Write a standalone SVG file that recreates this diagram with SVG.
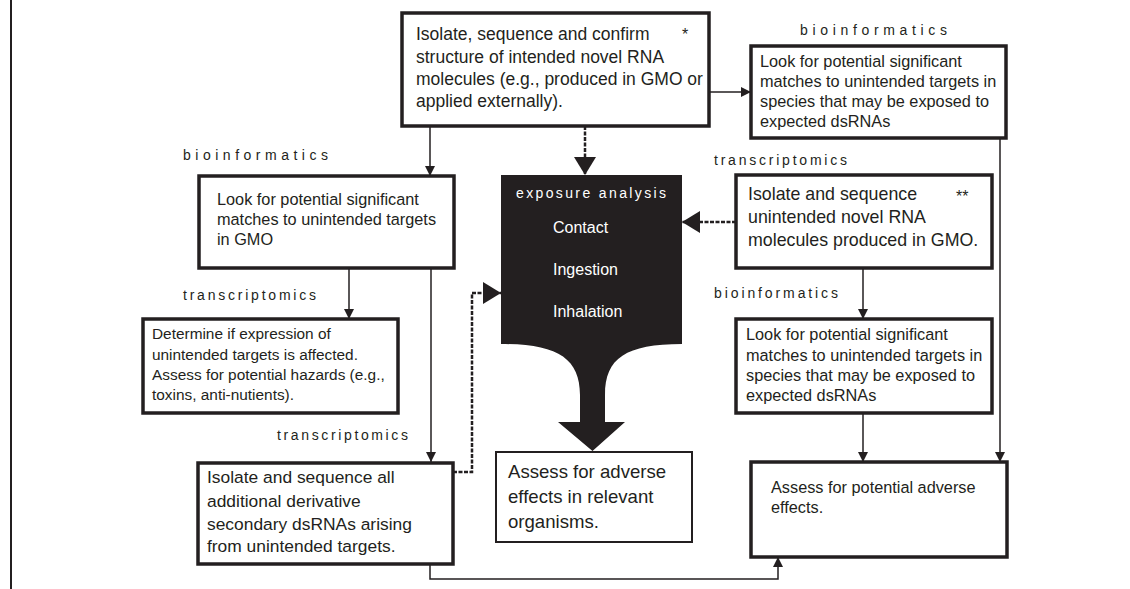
<svg xmlns="http://www.w3.org/2000/svg" width="1130" height="589" viewBox="0 0 1130 589">
<style>
.box{fill:#fff;stroke:#231f20;stroke-width:3.5}
.thin{fill:#fff;stroke:#231f20;stroke-width:2}
.t{font-family:"Liberation Sans",Arial,sans-serif;fill:#231f20}
.lbl{font-family:"Liberation Sans",Arial,sans-serif;fill:#231f20;font-size:14px}
.w{font-family:"Liberation Sans",Arial,sans-serif;fill:#fff}
.c{fill:none;stroke:#231f20;stroke-width:1.5}
.d{fill:none;stroke:#231f20;stroke-width:2.5;stroke-dasharray:4 1.5}
</style>
<defs>
<marker id="a" markerUnits="userSpaceOnUse" markerWidth="10" markerHeight="10" refX="10" refY="5" orient="auto"><path d="M0,0 L10,5 L0,10 Z" fill="#231f20"/></marker>
<marker id="b" markerUnits="userSpaceOnUse" markerWidth="18" markerHeight="22" refX="18" refY="11" orient="auto"><path d="M0,0 L18,11 L0,22 Z" fill="#231f20"/></marker>
</defs>
<line x1="11" y1="0" x2="11" y2="589" stroke="#231f20" stroke-width="2"/>
<g id="connectors">
<path class="c" d="M709,92 H751" marker-end="url(#a)"/>
<path class="c" d="M430,126 V176" marker-end="url(#a)"/>
<path class="d" d="M585,126 V175" marker-end="url(#b)"/>
<path class="c" d="M349,268 V319" marker-end="url(#a)"/>
<path class="c" d="M431,268 V462" marker-end="url(#a)"/>
<path class="d" d="M453,472 H472 V293 H501" marker-end="url(#b)"/>
<path class="d" d="M736,222 H682" marker-end="url(#b)"/>
<path class="c" d="M863,268 V319" marker-end="url(#a)"/>
<path class="c" d="M863,413 V462" marker-end="url(#a)"/>
<path class="c" d="M1000,138 V462" marker-end="url(#a)"/>
<path class="c" d="M430,564 V579 H778 V557" marker-end="url(#a)"/>
</g>
<g id="n-top">
<rect class="box" x="402" y="13" width="307" height="113" stroke-width="4"/>
<text class="t" font-size="17.5" x="416"><tspan x="416" y="40">Isolate, sequence and confirm</tspan><tspan x="416" y="63">structure of intended novel RNA</tspan><tspan x="416" y="85">molecules (e.g., produced in GMO or</tspan><tspan x="416" y="107">applied externally).</tspan></text>
<text class="t" font-size="16" x="682" y="40">*</text>
</g>
<g id="n-bio-right-top">
<text class="lbl" x="800" y="35" textLength="147" lengthAdjust="spacing">bioinformatics</text>
<rect class="box" x="751" y="46" width="255" height="92"/>
<text class="t" font-size="16.3"><tspan x="760" y="67">Look for potential significant</tspan><tspan x="760" y="87">matches to unintended targets in</tspan><tspan x="760" y="107">species that may be exposed to</tspan><tspan x="760" y="127">expected dsRNAs</tspan></text>
</g>
<g id="n-bio-left">
<text class="lbl" x="183" y="160" textLength="145" lengthAdjust="spacing">bioinformatics</text>
<rect class="box" x="199" y="176" width="255" height="92"/>
<text class="t" font-size="16.3"><tspan x="217" y="205">Look for potential significant</tspan><tspan x="217" y="225">matches to unintended targets</tspan><tspan x="217" y="245">in GMO</tspan></text>
</g>
<g id="n-determine">
<text class="lbl" x="183" y="300" textLength="133" lengthAdjust="spacing">transcriptomics</text>
<rect class="box" x="143" y="319" width="255" height="94"/>
<text class="t" font-size="15.4"><tspan x="152" y="339">Determine if expression of</tspan><tspan x="152" y="360">unintended targets is affected.</tspan><tspan x="152" y="380">Assess for potential hazards (e.g.,</tspan><tspan x="152" y="400">toxins, anti-nutients).</tspan></text>
</g>
<g id="n-isolate-all">
<text class="lbl" x="277" y="440" textLength="131" lengthAdjust="spacing">transcriptomics</text>
<rect class="box" x="198" y="463" width="255" height="101"/>
<text class="t" font-size="17.4"><tspan x="207" y="483">Isolate and sequence all</tspan><tspan x="207" y="507">additional derivative</tspan><tspan x="207" y="530">secondary dsRNAs arising</tspan><tspan x="207" y="552">from unintended targets.</tspan></text>
</g>
<g id="n-exposure">
<path d="M501,175 H682 V344 C626,344 605,358 605,395 V422 H625 L592.5,451 L558,422 H580 V395 C580,358 557,344 501,344 Z" fill="#231f20"/>
<text class="w" font-size="14" x="516" y="198" textLength="150" lengthAdjust="spacing">exposure analysis</text>
<text class="w" font-size="16"><tspan x="553" y="233">Contact</tspan><tspan x="553" y="275">Ingestion</tspan><tspan x="553" y="317">Inhalation</tspan></text>
</g>
<g id="n-assess-organisms">
<rect class="thin" x="496" y="452" width="196" height="90"/>
<text class="t" font-size="18.6"><tspan x="508" y="478">Assess for adverse</tspan><tspan x="508" y="503">effects in relevant</tspan><tspan x="508" y="528">organisms.</tspan></text>
</g>
<g id="n-trans-right">
<text class="lbl" x="714" y="165" textLength="133" lengthAdjust="spacing">transcriptomics</text>
<rect class="box" x="736" y="175" width="256" height="93"/>
<text class="t" font-size="17.8"><tspan x="748" y="200">Isolate and sequence</tspan><tspan x="748" y="223">unintended novel RNA</tspan><tspan x="748" y="246">molecules produced in GMO.</tspan></text>
<text class="t" font-size="16" x="956" y="202">**</text>
</g>
<g id="n-bio-right-low">
<text class="lbl" x="714" y="298" textLength="124" lengthAdjust="spacing">bioinformatics</text>
<rect class="box" x="736" y="319" width="256" height="94"/>
<text class="t" font-size="16.3"><tspan x="746" y="340">Look for potential significant</tspan><tspan x="746" y="361">matches to unintended targets in</tspan><tspan x="746" y="381">species that may be exposed to</tspan><tspan x="746" y="401">expected dsRNAs</tspan></text>
</g>
<g id="n-assess-potential">
<rect class="box" x="751" y="462" width="256" height="95"/>
<text class="t" font-size="16.3"><tspan x="771" y="493">Assess for potential adverse</tspan><tspan x="771" y="513">effects.</tspan></text>
</g>
</svg>
